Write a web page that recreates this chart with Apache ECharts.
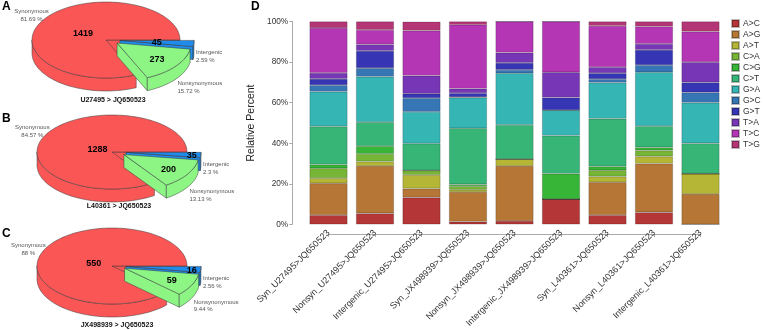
<!DOCTYPE html>
<html>
<head>
<meta charset="utf-8">
<script src="https://cdn.jsdelivr.net/npm/echarts@6/dist/echarts.min.js"></script>
<style>html,body{margin:0;padding:0;background:#fff}#chart{width:763px;height:330px}</style>
</head>
<body>
<div id="chart"></div>
<script>
// ---- panel D data (percent of each class) ----
var categories = ['Syn_U27495>JQ650523', 'Nonsyn_U27495>JQ650523', 'Intergenic_U27495>JQ650523',
    'Syn_JX498939>JQ650523', 'Nonsyn_JX498939>JQ650523', 'Intergenic_JX498939>JQ650523',
    'Syn_L40361>JQ650523', 'Nonsyn_L40361>JQ650523', 'Intergenic_L40361>JQ650523'];
var mutationTypes = ['A>C', 'A>G', 'A>T', 'C>A', 'C>G', 'C>T', 'G>A', 'G>C', 'G>T', 'T>A', 'T>C', 'T>G'];
var AtoC = [4.6, 5.5, 13.3, 1.4, 1.7, 12.5, 4.6, 6.0, 0];
var AtoG = [15.7, 23.3, 4.4, 14.6, 27.1, 0, 16.2, 24.0, 15];
var AtoT = [2.5, 2.2, 6.7, 1.1, 3.4, 0, 2.8, 3.5, 10];
var CtoA = [4.9, 3.8, 2.2, 1.8, 0, 0, 3.1, 3.0, 0];
var CtoG = [1.8, 3.8, 0, 0.9, 0, 12.5, 1.9, 1.5, 0];
var CtoT = [18.8, 11.8, 13.3, 27.6, 16.9, 18.8, 23.5, 10.5, 15];
var GtoA = [17.1, 22.4, 15.6, 15.1, 25.4, 12.5, 17.8, 26.5, 20];
var GtoC = [3.3, 4.2, 6.7, 0.3, 1.7, 0, 1.7, 3.5, 5];
var GtoT = [3.0, 8.5, 2.2, 1.9, 3.4, 6.2, 3.0, 7.5, 5];
var TtoA = [3.0, 3.2, 8.9, 2.2, 5.1, 12.5, 2.9, 3.0, 10];
var TtoC = [22.1, 7.2, 22.2, 31.5, 15.3, 25.0, 20.3, 8.5, 15];
var TtoG = [3.2, 4.1, 4.4, 1.6, 0, 0, 2.2, 2.5, 5];
var yTicks = [0, 20, 40, 60, 80, 100];

// ---- panels A-C data (counts) ----
var pieNames = ['Synonymous', 'Nonsynonymous', 'Intergenic'];
var countsU27495 = [1419, 273, 45];
var countsL40361 = [1288, 200, 35];
var countsJX498939 = [550, 59, 16];
var pieTitles = ['U27495 > JQ650523', 'L40361 > JQ650523', 'JX498939 > JQ650523'];

var mutationValues = [AtoC, AtoG, AtoT, CtoA, CtoG, CtoT, GtoA, GtoC, GtoT, TtoA, TtoC, TtoG];
var mutationColors = ['#B53636', '#B57636', '#B5B536', '#76B536', '#36B536', '#36B576',
    '#36B5B5', '#3676B5', '#3636B5', '#7636B5', '#B536B5', '#B53676'];
var pieColors = ['#fa5656', '#8cf584', '#1f8ceb'];
var pieDraw = [0, 2, 1];
var FONT = 'Liberation Sans, Arial, sans-serif';

function pieSeries(counts, lay) {
    var total = counts[0] + counts[1] + counts[2];
    var a0 = [], a1 = [], acc = 0;
    // clockwise from 3 o'clock: Intergenic, Nonsynonymous, Synonymous
    [2, 1, 0].forEach(function (i) {
        a0[i] = acc / total * Math.PI * 2;
        acc += counts[i];
        a1[i] = acc / total * Math.PI * 2;
    });
    return {
        type: 'custom',
        coordinateSystem: 'none',
        silent: true,
        data: counts.map(function (c, i) { return [c, i]; }),
        renderItem: function (params, api) {
            var i = params.dataIndex;
            var s = a0[i], e = a1[i], m = (s + e) / 2;
            var ex = lay.explode[i];
            var cx = lay.cx + ex * Math.cos(m), cy = lay.cy + ex * Math.sin(m) * 0.35;
            var d = lay.depth, z = pieDraw[i] * 10;
            var kids = [];
            function rim(a, dy) { return [cx + lay.rx * Math.cos(a), cy + lay.ry * Math.sin(a) + dy]; }
            function arc(from, to, dy) {
                var n = Math.max(2, Math.ceil((to - from) / 0.04)), p = [];
                for (var k = 0; k <= n; k++) p.push(rim(from + (to - from) * k / n, dy));
                return p;
            }
            function poly(pts, zz) {
                kids.push({type: 'polygon', z2: z + zz, shape: {points: pts},
                    style: {fill: pieColors[i], stroke: '#3a3a3a', lineWidth: 0.5}});
            }
            if (Math.cos(s) < 0) poly([[cx, cy], rim(s, 0), rim(s, d), [cx, cy + d]], 1);
            if (Math.cos(e) > 0) poly([[cx, cy], rim(e, 0), rim(e, d), [cx, cy + d]], 1);
            var ws = Math.max(s, 0), we = Math.min(e, Math.PI);
            if (we > ws) poly(arc(ws, we, 0).concat(arc(ws, we, d).reverse()), 2);
            poly([[cx, cy]].concat(arc(s, e, 0)), 3);

            var f = lay.inner[i];
            kids.push({type: 'text', z2: 100, style: {
                text: String(counts[i]), x: cx + f * lay.rx * Math.cos(m), y: cy + f * lay.ry * Math.sin(m) + 1,
                textAlign: 'center', textVerticalAlign: 'middle', align: 'center', verticalAlign: 'middle',
                font: 'bold 9px ' + FONT, fill: '#000'}});

            var c = Math.cos(m), sn = Math.sin(m);
            var k = c < 0 ? 1.2 : 1.03;
            var va = sn > 0.3 ? 'top' : 'middle';
            var al = c < 0 ? 'center' : 'left';
            var pct = parseFloat((counts[i] / total * 100).toFixed(2)) + ' %';
            kids.push({type: 'text', z2: 100, style: {
                text: pieNames[i] + '\n' + pct,
                x: cx + k * lay.rx * c, y: cy + k * lay.ry * sn + (sn > 0 ? d : 0),
                textAlign: al, textVerticalAlign: va, align: al, verticalAlign: va,
                font: '6px ' + FONT, lineHeight: 7.5, fill: '#555'}});
            return {type: 'group', children: kids};
        }
    };
}

var layA = {cx: 106, cy: 40, rx: 74, ry: 38, depth: 13, explode: [0, 14, 14], inner: [0.37, 0.68, 0.5]};
var layB = {cx: 112, cy: 152, rx: 75, ry: 37, depth: 13, explode: [0, 14, 14], inner: [0.22, 0.7, 0.88]};
var layC = {cx: 112, cy: 266, rx: 75, ry: 38, depth: 13, explode: [0, 14, 14], inner: [0.26, 0.7, 0.88]};

var barSeries = mutationTypes.map(function (t, k) {
    return {
        name: t,
        type: 'bar',
        stack: 'all',
        xAxisIndex: 0,
        yAxisIndex: 0,
        barWidth: 38,
        data: mutationValues[k],
        itemStyle: {color: mutationColors[k], borderColor: 'rgba(0,0,0,0.28)', borderWidth: 0.7}
    };
});

var letter = function (t, x, y) {
    return {text: t, left: x, top: y, padding: 0, textStyle: {fontSize: 12, fontWeight: 'bold', color: '#000', fontFamily: FONT}};
};
var pieTitle = function (t, x, y) {
    return {text: t, left: x, top: y, padding: 0, textAlign: 'center',
        textStyle: {fontSize: 7, fontWeight: 'bold', color: '#111', fontFamily: FONT}};
};

var option = {
    animation: false,
    backgroundColor: '#fff',
    title: [
        letter('A', 2, 1), letter('B', 2, 113), letter('C', 2, 228), letter('D', 251, 1),
        pieTitle(pieTitles[0], 113, 97), pieTitle(pieTitles[1], 119, 203), pieTitle(pieTitles[2], 117, 322)
    ],
    legend: {
        data: mutationTypes,
        orient: 'vertical',
        left: 731,
        top: 19,
        padding: 0,
        itemWidth: 7,
        itemHeight: 7,
        itemGap: 2,
        icon: 'rect',
        textStyle: {fontSize: 8.5, color: '#333', fontFamily: FONT, padding: [0, 0, 0, -1]}
    },
    grid: [
        {left: 305.25, top: 21.5, width: 418.5, height: 210.5},
        {left: 328.5, top: 21.5, width: 372, height: 212.5}
    ],
    xAxis: [
        {
            type: 'category',
            gridIndex: 0,
            data: categories,
            axisLine: {show: false},
            axisTick: {show: false},
            axisLabel: {rotate: 45, margin: 7, fontSize: 9, color: '#333', fontFamily: FONT, interval: 0}
        },
        {
            type: 'value',
            gridIndex: 1,
            min: 0,
            max: 8,
            interval: 1,
            axisLine: {lineStyle: {color: '#aaa', width: 1}},
            axisTick: {length: 3, lineStyle: {color: '#aaa'}},
            axisLabel: {show: false},
            splitLine: {show: false}
        }
    ],
    yAxis: [
        {
            type: 'value',
            gridIndex: 0,
            min: yTicks[0],
            max: yTicks[yTicks.length - 1],
            interval: 20,
            offset: 13,
            name: 'Relative Percent',
            nameLocation: 'middle',
            nameGap: 34,
            nameTextStyle: {fontSize: 10.5, color: '#222', fontFamily: FONT},
            axisLine: {show: true, lineStyle: {color: '#aaa', width: 1}},
            axisTick: {show: true, length: 3, lineStyle: {color: '#aaa'}},
            axisLabel: {formatter: '{value}%', fontSize: 8.3, color: '#333', fontFamily: FONT, margin: 4},
            splitLine: {show: false}
        },
        {type: 'value', gridIndex: 1, show: false, min: 0, max: 1}
    ],
    series: barSeries.concat([
        pieSeries(countsU27495, layA),
        pieSeries(countsL40361, layB),
        pieSeries(countsJX498939, layC)
    ])
};

var myChart = echarts.init(document.getElementById('chart'));
myChart.setOption(option);
</script>
</body>
</html>
